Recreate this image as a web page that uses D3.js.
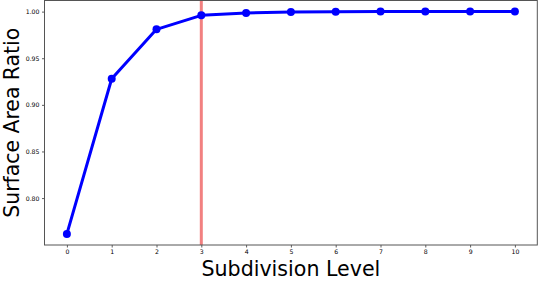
<!DOCTYPE html>
<html>
<head>
<meta charset="utf-8">
<script src="https://cdn.jsdelivr.net/npm/d3@7"></script>
<style>
  html, body { margin: 0; padding: 0; background: #fff; }
  svg { display: block; }
</style>
</head>
<body>
<svg id="chart" width="538" height="281"></svg>
<script>
const levels = [0, 1, 2, 3, 4, 5, 6, 7, 8, 9, 10];
const ratios = [0.7616, 0.928, 0.981, 0.996, 0.9986, 0.9997, 0.9999, 1.0, 1.0, 1.0, 1.0];
const yTicks = [0.80, 0.85, 0.90, 0.95, 1.00];
const markerLevel = 3;
const xLabel = "Subdivision Level";
const yLabel = "Surface Area Ratio";

const svg = d3.select("#chart");
const W = 538, H = 281;
const margin = { left: 44.5, right: 0.7, top: 0.5, bottom: 36 };
const x0 = margin.left, x1 = W - margin.right;
const y0 = margin.top, y1 = H - margin.bottom;

const x = d3.scaleLinear().domain([-0.5, 10.5]).range([x0, x1]);
const ext = d3.extent(ratios);
const pad = (ext[1] - ext[0]) * 0.05;
const y = d3.scaleLinear().domain([ext[0] - pad, ext[1] + pad]).range([y1, y0]);

// vertical reference line
svg.append("line")
  .attr("x1", x(markerLevel)).attr("x2", x(markerLevel))
  .attr("y1", y0).attr("y2", y1)
  .attr("stroke", "#f28080").attr("stroke-width", 3);

// series line
const line = d3.line().x((d, i) => x(levels[i])).y(d => y(d));
svg.append("path")
  .datum(ratios)
  .attr("d", line)
  .attr("fill", "none")
  .attr("stroke", "#0000ff")
  .attr("stroke-width", 3)
  .attr("stroke-linejoin", "round");

svg.selectAll("circle.pt")
  .data(ratios)
  .join("circle")
  .attr("class", "pt")
  .attr("cx", (d, i) => x(levels[i]))
  .attr("cy", d => y(d))
  .attr("r", 4)
  .attr("fill", "#0000ff");

// axes
const xAxis = d3.axisBottom(x).tickValues(levels).tickFormat(d3.format("d")).tickSize(2.5).tickPadding(2.5);
const yAxis = d3.axisLeft(y).tickValues(yTicks).tickFormat(d3.format(".2f")).tickSize(2.5).tickPadding(2.5);

const gx = svg.append("g").attr("transform", `translate(0,${y1})`).call(xAxis);
const gy = svg.append("g").attr("transform", `translate(${x0},0)`).call(yAxis);
[gx, gy].forEach(g => {
  g.select(".domain").remove();
  g.selectAll(".tick line").attr("stroke", "#333").attr("stroke-width", 0.8);
  g.selectAll(".tick text").attr("fill", "#000").style("font-family", "DejaVu Sans").style("font-size", "6.2px");
});

// frame
svg.append("rect")
  .attr("x", x0).attr("y", y0)
  .attr("width", x1 - x0).attr("height", y1 - y0)
  .attr("fill", "none").attr("stroke", "#555").attr("stroke-width", 1);

// labels
svg.append("text")
  .attr("x", (x0 + x1) / 2).attr("y", 276)
  .attr("text-anchor", "middle")
  .style("font-family", "DejaVu Sans").style("font-size", "20.6px")
  .attr("fill", "#000")
  .text(xLabel);

svg.append("text")
  .attr("transform", `translate(19,${(y0 + y1) / 2}) rotate(-90)`)
  .attr("text-anchor", "middle")
  .style("font-family", "DejaVu Sans").style("font-size", "20.4px")
  .attr("fill", "#000")
  .text(yLabel);
</script>
</body>
</html>
